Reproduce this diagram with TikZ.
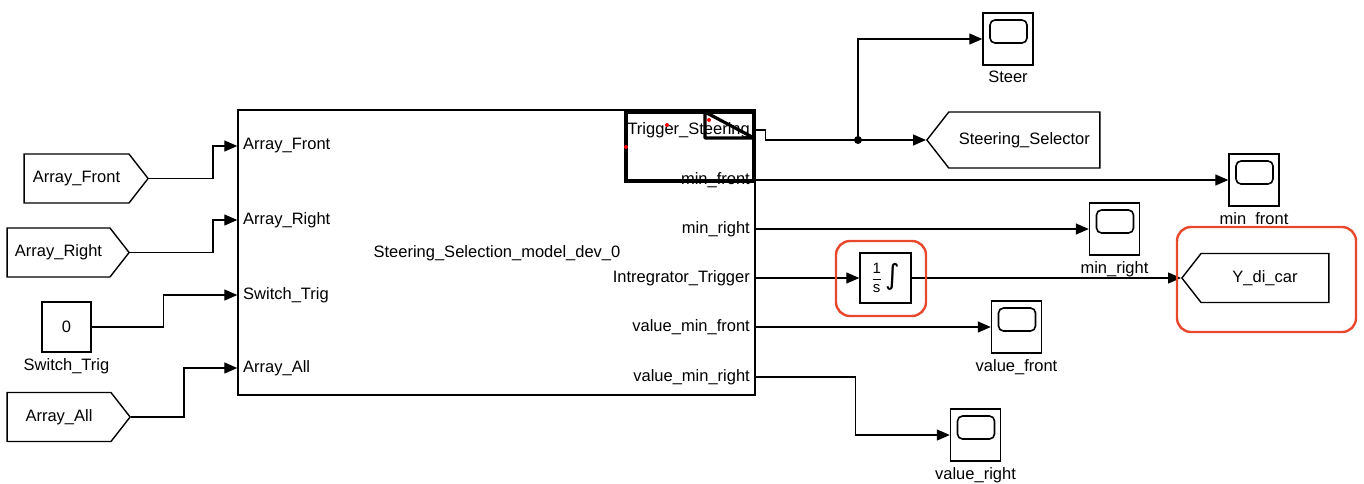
\documentclass[tikz,border=0pt]{standalone}
\usepackage{fontspec}
\setmainfont{Liberation Sans}
\newfontfamily\symbfont{DejaVu Sans}
\usepackage{amsmath}
\usetikzlibrary{positioning, arrows.meta, calc, shapes.symbols}
\definecolor{markred}{RGB}{232,72,44}

\begin{document}
\begin{tikzpicture}[
  x=1pt, y=-1pt,
  font=\fontsize{16.5}{19}\selectfont,
  % block styles
  block/.style={draw, rectangle, line width=1.4pt, inner sep=0pt},
  frombox/.style={draw, signal, signal to=east, signal pointer angle=104, line width=1.4pt, inner sep=0pt, minimum height=49pt, anchor=east},
  gotobox/.style={draw, signal, signal to=west, signal pointer angle=104, line width=1.4pt, inner sep=0pt, anchor=west},
  scopebox/.style={block, minimum width=50pt, minimum height=52pt,
    path picture={\draw[line width=1.6pt, rounded corners=5pt]
      ($(path picture bounding box.north west)+(7pt,-7pt)$) rectangle
      ($(path picture bounding box.north east)+(-6pt,-30pt)$);}},
  port/.style={inner sep=1pt},
  redbox/.style={draw=markred, line width=2.4pt, rounded corners=14pt},
  hilite/.style={line width=3.2pt},
  dot/.style={circle, fill, inner sep=0pt, minimum size=8pt},
  % signal lines
  line/.style={draw, line width=1.3pt, -{Triangle[length=13pt, width=11pt]}},
  wire/.style={draw, line width=1.3pt}
]
  \useasboundingbox (0,0) rectangle (1364,483);

  % ==========================================
  % SUBSYSTEM
  % ==========================================
  \node[block, minimum width=517pt, minimum height=285pt] (model) at (496.5,252.5) {};
  \node (title) at (497,253) {Steering\_Selection\_model\_dev\_0};

  % input ports
  \node[port, anchor=west] (pFront) at (242,146) {Array\_Front};
  \node[port, anchor=west] (pRight) at (242,220) {Array\_Right};
  \node[port, anchor=west] (pSwitch) at (242,295) {Switch\_Trig};
  \node[port, anchor=west] (pAll) at (242,368) {Array\_All};

  % output ports
  \node[port, anchor=east] (oTrig) at (751,130) {Trigger\_Steering};
  \node[port, anchor=east] (oMinF) at (751,180) {min\_front};
  \node[port, anchor=east] (oMinR) at (751,229) {min\_right};
  \node[port, anchor=east] (oInt) at (751,278) {Intregrator\_Trigger};
  \node[port, anchor=east] (oValF) at (751,327) {value\_min\_front};
  \node[port, anchor=east] (oValR) at (751,377) {value\_min\_right};

  % selection frame on the first port
  \draw[hilite] (626,112) rectangle (754,181);
  \draw[hilite, line join=round] (705,112) -- (705,138) -- (754,138) -- cycle;
  \fill[red] (667,125) circle (2pt) (709,120) circle (2pt) (626,147) circle (2pt);

  % ==========================================
  % SOURCES
  % ==========================================
  \node[frombox, minimum width=124pt] (fFront) at (149,178.5) {Array\_Front};
  \node[frombox, minimum width=122pt] (fRight) at (130,252.5) {Array\_Right};
  \node[block, minimum width=49pt, minimum height=50pt,
        label={[label distance=2pt]below:Switch\_Trig}] (cTrig) at (66.5,327) {0};
  \node[frombox, minimum width=123pt] (fAll) at (131,417) {Array\_All};

  \draw[line] (fFront.east) -- ++(64,0) |- (model.west |- pFront);
  \draw[line] (fRight.east) -- ++(83,0) |- (model.west |- pRight);
  \draw[line] (cTrig.east) -- ++(72,0) |- (model.west |- pSwitch);
  \draw[line] (fAll.east) -- ++(53,0) |- (model.west |- pAll);

  % ==========================================
  % SINKS
  % ==========================================
  \node[dot] (br) at (858,140) {};
  \node[gotobox, minimum width=173pt, minimum height=56pt] (gSel) at (926,140) {Steering\_Selector};
  \node[scopebox, label={[label distance=2pt]below:Steer}] (sSteer) at (1008,39) {};
  \node[scopebox, label={[label distance=2pt]below:min\_front}] (sMinF) at (1254,180) {};
  \node[scopebox, label={[label distance=2pt]below:min\_right}] (sMinR) at (1114.5,229) {};
  \node[block, minimum width=51pt, minimum height=50pt] (integ) at (885.5,278)
    {{\fontsize{15}{15}\selectfont$\dfrac{\text{1}}{\text{s}}$}\hspace{3pt}\raisebox{-1pt}{\symbfont\fontsize{28}{28}\selectfont ∫}};
  \node[gotobox, minimum width=147pt, minimum height=49pt] (gY) at (1181,278) {Y\_di\_car};
  \node[scopebox, label={[label distance=2pt]below:value\_front}] (sValF) at (1016.5,327) {};
  \node[scopebox, label={[label distance=2pt]below:value\_right}] (sValR) at (975.5,435) {};

  \draw[wire] (model.east |- oTrig) -- ++(10,0) |- (br.center);
  \draw[line] (br.center) -- (gSel.west);
  \draw[line] (br.center) |- (sSteer.west);
  \draw[line] (model.east |- sMinF) -- (sMinF.west);
  \draw[line] (model.east |- sMinR) -- (sMinR.west);
  \draw[line] (model.east |- integ) -- (integ.west);
  \draw[line] (integ.east) -- (gY.west);
  \draw[line] (model.east |- sValF) -- (sValF.west);
  \draw[line] (model.east |- oValR) -- ++(100,0) |- (sValR.west);

  % highlight marks
  \node[redbox, minimum width=90pt, minimum height=75pt] (markInt) at (881,278.5) {};
  \node[redbox, minimum width=179pt, minimum height=105pt] (markY) at (1266.5,279.5) {};

\end{tikzpicture}
\end{document}
